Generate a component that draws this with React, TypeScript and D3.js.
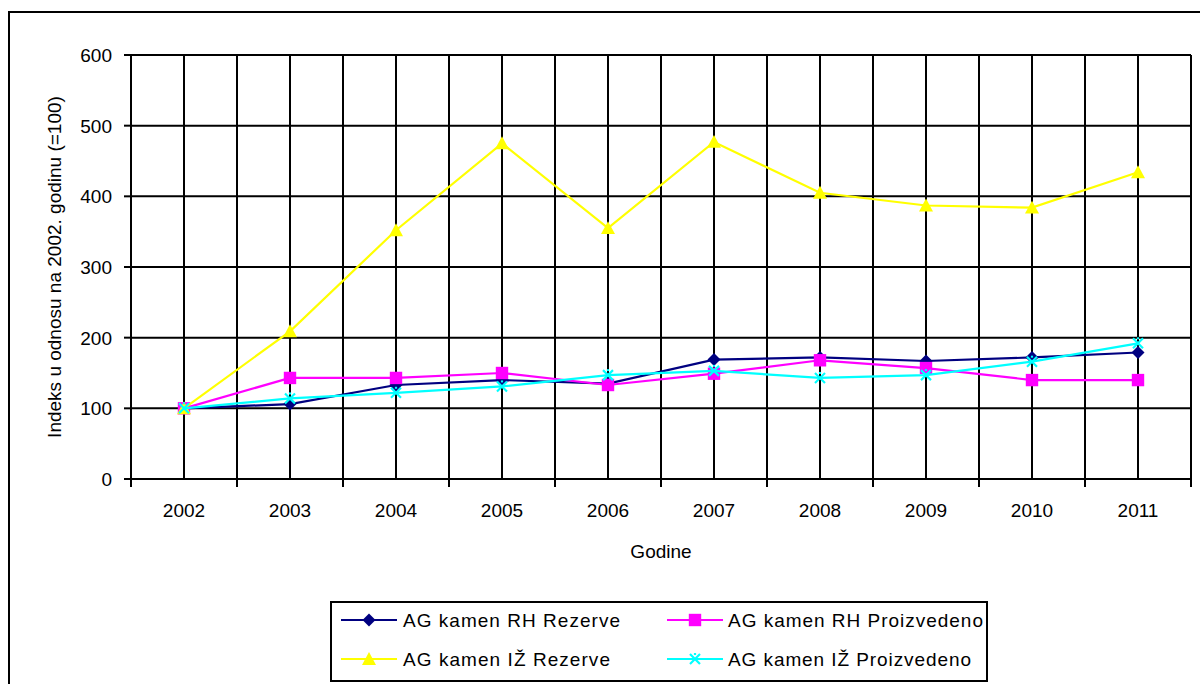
import React from "react";
import * as d3 from "d3";

const years = ["2002", "2003", "2004", "2005", "2006", "2007", "2008", "2009", "2010", "2011"];
const rhRezerve = [100, 106, 133, 140, 135, 169, 172, 167, 172, 179];
const rhProizvedeno = [100, 143, 143, 150, 133, 149, 168, 157, 140, 140];
const izRezerve = [100, 209, 352, 475, 355, 477, 405, 387, 384, 434];
const izProizvedeno = [100, 114, 122, 131, 147, 153, 143, 147, 166, 192];
const yTicks = [0, 100, 200, 300, 400, 500, 600];

const seriesNames = [
  "AG kamen RH Rezerve",
  "AG kamen RH Proizvedeno",
  "AG kamen IŽ Rezerve",
  "AG kamen IŽ Proizvedeno",
];
const seriesColors = ["#000080", "#FF00FF", "#FFFF00", "#00FFFF"];
const seriesMarkers = ["diamond", "square", "triangle", "x"];
const seriesValues = [rhRezerve, rhProizvedeno, izRezerve, izProizvedeno];

const W = 1200;
const H = 684;
const plot = { left: 131, right: 1191, top: 55, bottom: 479 };
const FONT = "'Liberation Sans', Arial, sans-serif";

function Marker({ type, x, y, color }: { type: string; x: number; y: number; color: string }) {
  if (type === "diamond") {
    const s = 6.5;
    return <path d={`M${x},${y - s}L${x + s},${y}L${x},${y + s}L${x - s},${y}Z`} fill={color} />;
  }
  if (type === "square") {
    const s = 6.2;
    return <rect x={x - s} y={y - s} width={2 * s} height={2 * s} fill={color} />;
  }
  if (type === "triangle") {
    const s = 7;
    return <path d={`M${x},${y - s}L${x + s},${y + s * 0.85}L${x - s},${y + s * 0.85}Z`} fill={color} />;
  }
  const s = 5;
  return (
    <g stroke={color} strokeWidth={2.2}>
      <line x1={x - s} y1={y - s} x2={x + s} y2={y + s} />
      <line x1={x - s} y1={y + s} x2={x + s} y2={y - s} />
      <line x1={x} y1={y - s - 1} x2={x} y2={y - s + 1} />
    </g>
  );
}

export default function App() {
  const xBand = d3.scaleBand<string>().domain(years).range([plot.left, plot.right]).padding(0);
  const xc = (yr: string) => (xBand(yr) as number) + xBand.bandwidth() / 2;
  const y = d3.scaleLinear().domain([0, 600]).range([plot.bottom, plot.top]);
  const line = d3
    .line<number>()
    .x((_, i) => xc(years[i]))
    .y((v) => y(v));

  const vLines: number[] = [];
  years.forEach((yr) => {
    vLines.push(xBand(yr) as number);
    vLines.push(xc(yr));
  });
  vLines.push(plot.right);

  const legendItems = [
    { idx: 0, x: 341, y: 620, tx: 403, tw: 217 },
    { idx: 1, x: 667, y: 620, tx: 728, tw: 255 },
    { idx: 2, x: 341, y: 659, tx: 403, tw: 207 },
    { idx: 3, x: 667, y: 659, tx: 728, tw: 243 },
  ];

  return (
    <svg
      width={W}
      height={H}
      style={{ position: "fixed", left: 0, top: 0, background: "#fff" }}
      fontFamily={FONT}
    >
      <rect x={0} y={0} width={W} height={H} fill="#fff" />
      <rect x={9} y={12} width={1300} height={800} fill="none" stroke="#000" strokeWidth={2} />

      {/* gridlines */}
      <g stroke="#000" strokeWidth={2}>
        {yTicks.map((t) => (
          <line key={"h" + t} x1={plot.left} x2={plot.right} y1={y(t)} y2={y(t)} />
        ))}
        {vLines.map((vx, i) => (
          <line key={"v" + i} x1={vx} x2={vx} y1={plot.top} y2={plot.bottom} />
        ))}
        {yTicks.map((t) => (
          <line key={"yt" + t} x1={plot.left - 7} x2={plot.left} y1={y(t)} y2={y(t)} />
        ))}
        {years.map((yr) => (
          <line key={"xt" + yr} x1={xBand(yr) as number} x2={xBand(yr) as number} y1={plot.bottom} y2={plot.bottom + 8} />
        ))}
        <line x1={plot.right} x2={plot.right} y1={plot.bottom} y2={plot.bottom + 8} />
      </g>

      {/* y tick labels */}
      <g fontSize={19} fill="#000" textAnchor="end">
        {yTicks.map((t) => (
          <text key={"yl" + t} x={112} y={y(t) + 7}>
            {t}
          </text>
        ))}
      </g>
      {/* x tick labels */}
      <g fontSize={19} fill="#000" textAnchor="middle">
        {years.map((yr) => (
          <text key={"xl" + yr} x={xc(yr)} y={517}>
            {yr}
          </text>
        ))}
      </g>
      <text x={(plot.left + plot.right) / 2} y={558} fontSize={19} textAnchor="middle">
        Godine
      </text>
      <text
        transform={`translate(61,${(plot.top + plot.bottom) / 2}) rotate(-90)`}
        fontSize={19}
        textAnchor="middle"
      >
        Indeks u odnosu na 2002. godinu (=100)
      </text>

      {/* series */}
      {seriesValues.map((vals, si) => (
        <g key={"s" + si}>
          <path d={line(vals) as string} fill="none" stroke={seriesColors[si]} strokeWidth={2.2} />
          {vals.map((v, i) => (
            <Marker key={i} type={seriesMarkers[si]} x={xc(years[i])} y={y(v)} color={seriesColors[si]} />
          ))}
        </g>
      ))}

      {/* legend */}
      <rect x={331} y={602} width={656} height={79} fill="#fff" stroke="#000" strokeWidth={2} />
      {legendItems.map((it) => (
        <g key={"lg" + it.idx}>
          <line x1={it.x} x2={it.x + 56} y1={it.y} y2={it.y} stroke={seriesColors[it.idx]} strokeWidth={2.2} />
          <Marker type={seriesMarkers[it.idx]} x={it.x + 28} y={it.y} color={seriesColors[it.idx]} />
          <text x={it.tx} y={it.y + 7} fontSize={19} textLength={it.tw} lengthAdjust="spacing">
            {seriesNames[it.idx]}
          </text>
        </g>
      ))}
    </svg>
  );
}
